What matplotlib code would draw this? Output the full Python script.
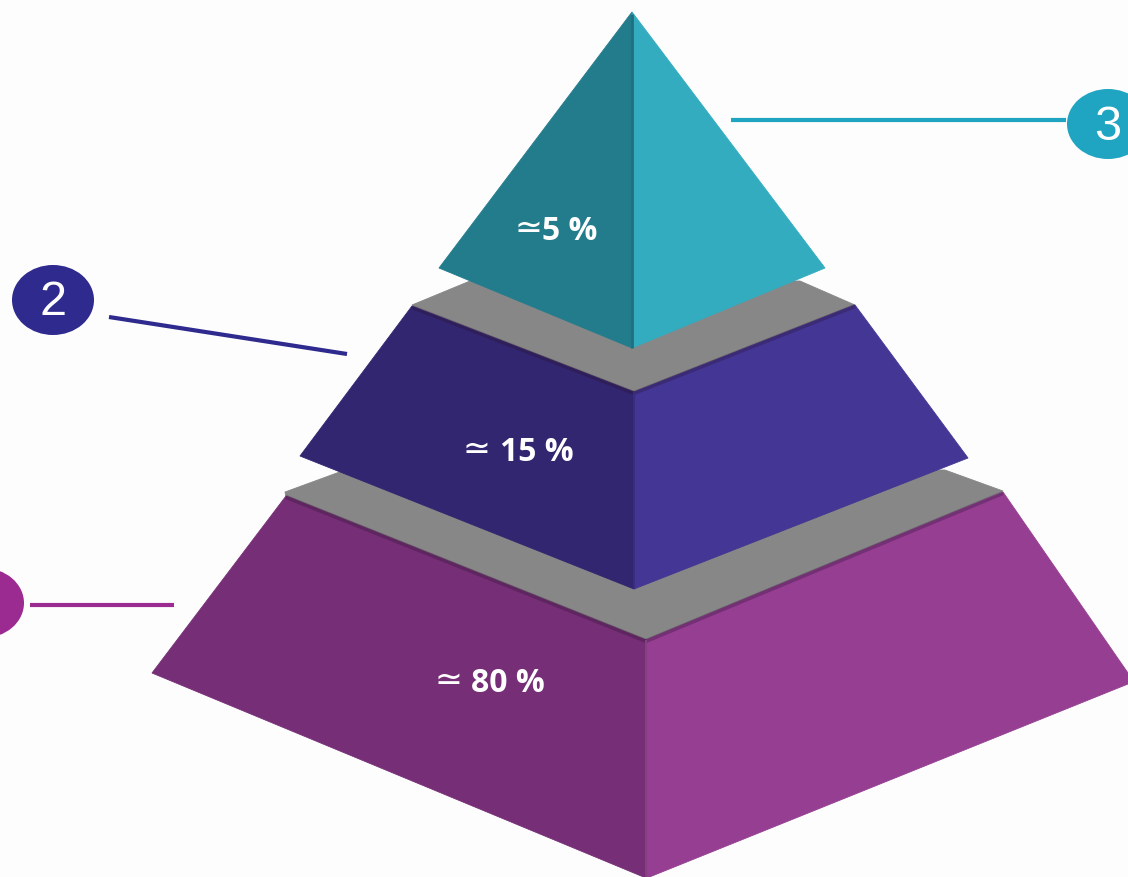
import matplotlib
matplotlib.use('Agg')
import matplotlib.pyplot as plt
from matplotlib.patches import Polygon, Ellipse

# Label tiap tingkat piramida
share_labels = ['5 %', '15 %', '80 %']
share_x = [570, 537, 508]
share_y = [232, 453, 684]
sign_x = [529, 477, 448]
sign_y = [229, 450, 681]

# Bentuk piramida (piksel gambar), dari atas ke bawah
top_left = [(632, 13), (439, 269), (632, 349)]
top_right = [(632, 13), (825, 269), (632, 349)]
mid_left = [(412, 307), (634, 393), (634, 590), (300, 457)]
mid_right = [(855, 306), (634, 393), (634, 590), (968, 459)]
low_left = [(286, 497), (646, 641), (646, 879), (152, 674)]
low_right = [(1003, 493), (646, 641), (647, 879), (1128, 685), (1128, 674)]
gray_mid = [(412, 306), (470, 282), (800, 282), (855, 306), (634, 394)]
gray_low = [(285, 493), (345, 471), (945, 471), (1003, 492), (646, 645), (286, 499)]

faces = [gray_low, low_left, low_right, gray_mid, mid_left, mid_right, top_left, top_right]
face_colors = ['#878787', '#762F76', '#953E92', '#878787', '#31266F', '#433694', '#237C8C', '#33ACC0']

# Penanda bernomor (angka 1 terpotong di luar gambar, jadi tidak digambar)
marker_labels = ['', '2', '3']
marker_colors = ['#9B2A91', '#2E2A8E', '#1FA5C2']
marker_x = [-17, 53, 1108]
marker_y = [604, 301, 125]
line_x = [(30, 174), (109, 347), (731, 1066)]
line_y = [(605.5, 605.5), (318, 355), (120.5, 120.5)]

fig = plt.figure(figsize=(11.28, 8.78), dpi=100, facecolor='#FDFDFD')
ax = fig.add_axes([0, 0, 1, 1])
ax.set_xlim(0, 1128)
ax.set_ylim(878, 0)
ax.axis('off')

for pts, col in zip(faces, face_colors):
    ax.add_patch(Polygon(pts, closed=True, facecolor=col, edgecolor=col, linewidth=0.6))

# Bayangan tipis di tepi atas tiap sisi
for pts in [low_left, low_right, mid_left, mid_right]:
    ax.plot([pts[0][0], pts[1][0]], [pts[0][1] + 1, pts[1][1] + 1], color='#2A1030', lw=3, alpha=0.3,
            solid_capstyle='butt')

# Garis tepi tengah
ax.plot([632, 632], [15, 349], color='#1F6F7E', lw=2, solid_capstyle='butt')
ax.plot([634, 634], [393, 590], color='#3A2C80', lw=1.5, solid_capstyle='butt')
ax.plot([646, 646], [641, 878], color='#85407F', lw=1.5, solid_capstyle='butt')

for lab, x, y, sx, sy in zip(share_labels, share_x, share_y, sign_x, sign_y):
    ax.text(x, y, lab, color='white', fontsize=23, fontweight='bold',
            family='Open Sans', ha='center', va='center')
    ax.text(sx, sy, '\u2243', color='white', fontsize=24, family='DejaVu Sans', ha='center', va='center')

for lab, col, x, y, lx, ly in zip(marker_labels, marker_colors, marker_x, marker_y, line_x, line_y):
    ax.plot(lx, ly, color=col, lw=3, solid_capstyle='butt')
    ax.add_patch(Ellipse((x, y), 82, 70, facecolor=col, edgecolor='none'))
    if lab:
        ax.text(x, y + 2, lab, color='white', fontsize=35, family='Liberation Sans', ha='center', va='center')

fig.savefig('out.png', dpi=100, facecolor=fig.get_facecolor())
